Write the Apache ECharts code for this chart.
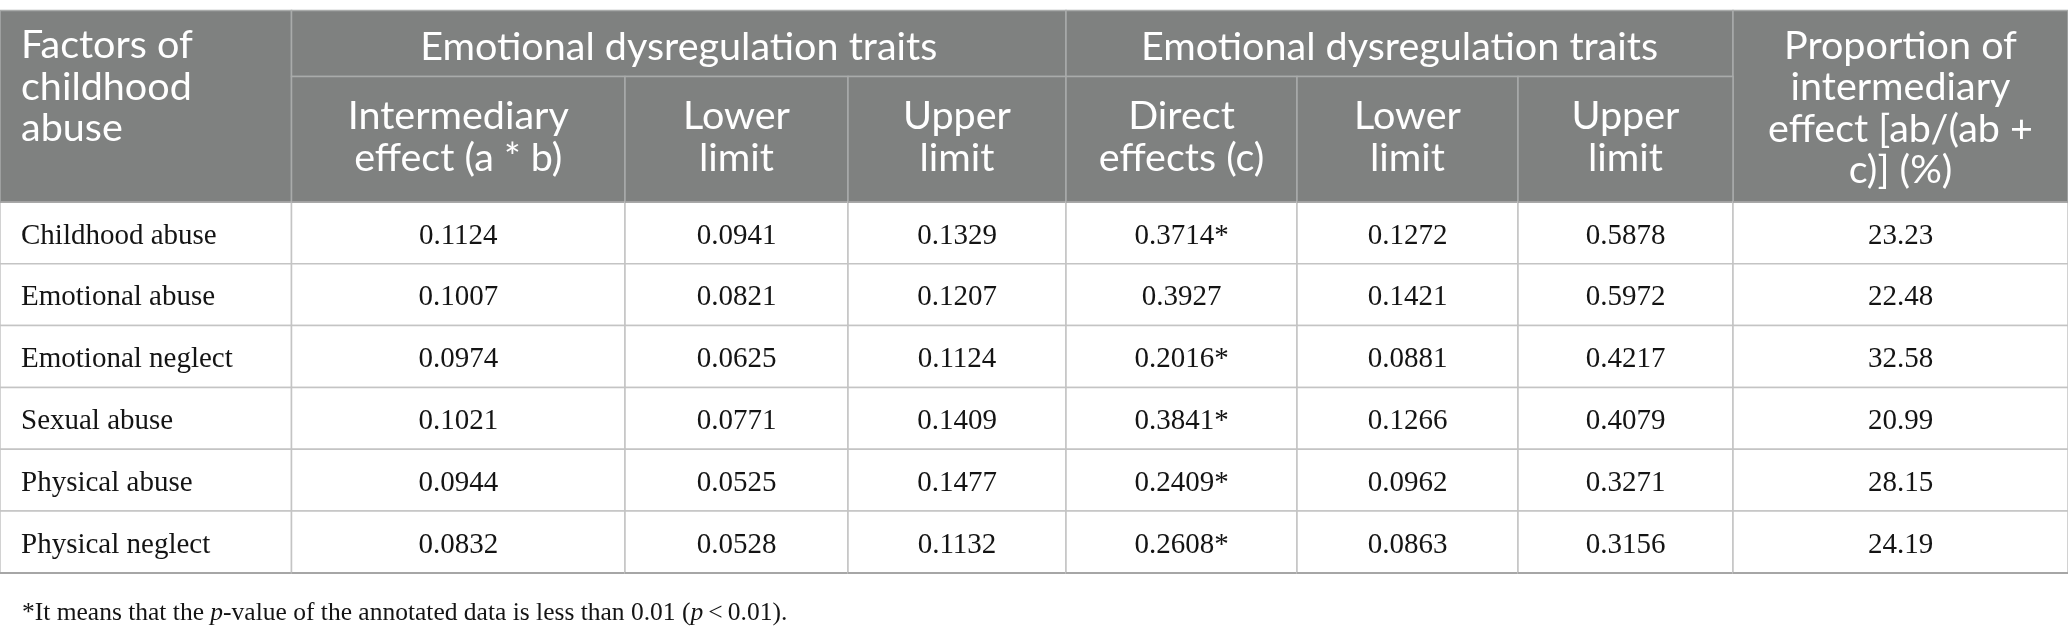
<!DOCTYPE html>
<html>
<head>
<meta charset="utf-8">
<script src="https://cdn.jsdelivr.net/npm/echarts@6/dist/echarts.min.js"></script>
<style>
html,body{margin:0;padding:0;background:#fff;}
#chart{width:2068px;height:632px;}
</style>
</head>
<body>
<div id="chart"></div>
<script>
// ---- data ----
const factors = ['Childhood abuse','Emotional abuse','Emotional neglect','Sexual abuse','Physical abuse','Physical neglect'];
const intermediaryEffect = [0.1124,0.1007,0.0974,0.1021,0.0944,0.0832];
const lowerLimit1 = [0.0941,0.0821,0.0625,0.0771,0.0525,0.0528];
const upperLimit1 = [0.1329,0.1207,0.1124,0.1409,0.1477,0.1132];
const directEffect = [0.3714,0.3927,0.2016,0.3841,0.2409,0.2608];
const directSignificant = [true,false,true,true,true,true];
const lowerLimit2 = [0.1272,0.1421,0.0881,0.1266,0.0962,0.0863];
const upperLimit2 = [0.5878,0.5972,0.4217,0.4079,0.3271,0.3156];
const proportion = [23.23,22.48,32.58,20.99,28.15,24.19];

const groupHeaders = ['Emotional dysregulation traits','Emotional dysregulation traits'];
const firstHeader = 'Factors of\nchildhood\nabuse';
const lastHeader = 'Proportion of\nintermediary\neffect [ab/(ab +\nc)] (%)';
const subHeaders = ['Intermediary\neffect (a * b)','Lower\nlimit','Upper\nlimit','Direct\neffects (c)','Lower\nlimit','Upper\nlimit'];
const footnote = '*It means that the {i|p}-value of the annotated data is less than 0.01 ({i|p}\u2009<\u20090.01).';

// ---- layout (sizes only) ----
const colWidths = [291.5, 333.5, 223, 218, 231, 221, 215, 335];
const rowHeights = [66, 125.5, 61.8, 61.8, 61.8, 61.8, 61.8, 62];

const colEdges = [0]; colWidths.forEach(w => colEdges.push(colEdges[colEdges.length-1] + w));
const rowEdges = [0]; rowHeights.forEach(h => rowEdges.push(rowEdges[rowEdges.length-1] + h));
const totalW = colEdges[colEdges.length-1];
const totalH = rowEdges[rowEdges.length-1];

const cells = [];
function addCell(c0, c1, r0, r1, text, kind) {
  cells.push({span:[colEdges[c0], colEdges[c1], rowEdges[r0], rowEdges[r1]], text, kind});
}
addCell(0,1,0,2, firstHeader, 'headLeft');
addCell(1,4,0,1, groupHeaders[0], 'head');
addCell(4,7,0,1, groupHeaders[1], 'head');
addCell(7,8,0,2, lastHeader, 'headTall');
subHeaders.forEach((t,i) => addCell(1+i, 2+i, 1, 2, t, 'sub'));
const f4 = v => v.toFixed(4);
factors.forEach((name, r) => {
  const row = [
    name,
    f4(intermediaryEffect[r]),
    f4(lowerLimit1[r]),
    f4(upperLimit1[r]),
    f4(directEffect[r]) + (directSignificant[r] ? '*' : ''),
    f4(lowerLimit2[r]),
    f4(upperLimit2[r]),
    proportion[r].toFixed(2)
  ];
  row.forEach((t, c) => addCell(c, c+1, 2+r, 3+r, t, c === 0 ? 'bodyLeft' : 'body'));
});
const lastRow = 2 + factors.length - 1;

const HEAD_FONT = 'Lato';
const HEAD_SIZE = 39.5;
const BODY_FONT = 'Liberation Serif';
const BODY_SIZE = 29;
const FOOT_SIZE = 25.5;

function renderItem(params, api) {
  const cell = cells[params.dataIndex];
  const p0 = api.coord([api.value(0), api.value(2)]);
  const p1 = api.coord([api.value(1), api.value(3)]);
  const x = p0[0], y = p0[1], w = p1[0]-p0[0], h = p1[1]-p0[1];
  const isHead = cell.kind.indexOf('head') === 0 || cell.kind === 'sub';
  const children = [{
    type:'rect',
    shape:{x, y, width:w, height:h},
    style:{fill: isHead ? '#7f8180' : '#ffffff', stroke: isHead ? '#a9abaa' : '#c4c4c4', lineWidth:1.5}
  }];
  let tx, ty, align = 'center', va = 'middle';
  if (cell.kind === 'headLeft') { tx = x + 21; ty = y + 14.5; align = 'left'; va = 'top'; }
  else if (cell.kind === 'head') { tx = x + w/2; ty = y + h/2 + 3.5; }
  else if (cell.kind === 'headTall') { tx = x + w/2; ty = y + h/2 + 2; }
  else if (cell.kind === 'sub') { tx = x + w/2; ty = y + h/2 - 2; }
  else if (cell.kind === 'bodyLeft') { tx = x + 21; ty = y + h/2 + 3; align = 'left'; }
  else { tx = x + w/2; ty = y + h/2 + 3; }
  children.push({
    type:'text',
    style:{
      text: cell.text, x: tx, y: ty, align, verticalAlign: va,
      fontFamily: isHead ? HEAD_FONT : BODY_FONT,
      fontSize: isHead ? HEAD_SIZE : BODY_SIZE,
      fontWeight: 'normal',
      lineHeight: isHead ? 41.5 : BODY_SIZE * 1.2,
      fill: isHead ? '#ffffff' : '#141414'
    }
  });
  if (!isHead && cell.span[3] === rowEdges[lastRow+1]) {
    children.push({type:'line', shape:{x1:x, y1:y+h, x2:x+w, y2:y+h}, style:{stroke:'#a6a6a6', lineWidth:2}});
  }
  if (!isHead && cell.span[2] === rowEdges[2]) {
    children.push({type:'line', shape:{x1:x, y1:y, x2:x+w, y2:y}, style:{stroke:'#9a9a9a', lineWidth:1.5}});
  }
  return {type:'group', children};
}

const chart = echarts.init(document.getElementById('chart'), null, {renderer:'canvas'});
chart.setOption({
  backgroundColor:'#ffffff',
  animation:false,
  title:{
    left:17, top:595,
    text: footnote,
    textStyle:{
      fontFamily: BODY_FONT, fontSize: FOOT_SIZE, fontWeight:'normal', color:'#141414',
      rich:{ i:{fontFamily: BODY_FONT, fontSize: FOOT_SIZE, fontStyle:'italic', color:'#141414'} }
    }
  },
  grid:{left:0, right:0, top:10.5, height: totalH},
  xAxis:{type:'value', min:0, max:totalW, show:false},
  yAxis:{type:'value', min:0, max:totalH, inverse:true, show:false},
  series:[{
    type:'custom',
    clip:false,
    renderItem,
    encode:{x:[0,1], y:[2,3]},
    data: cells.map(c => c.span)
  }]
});
</script>
</body>
</html>
